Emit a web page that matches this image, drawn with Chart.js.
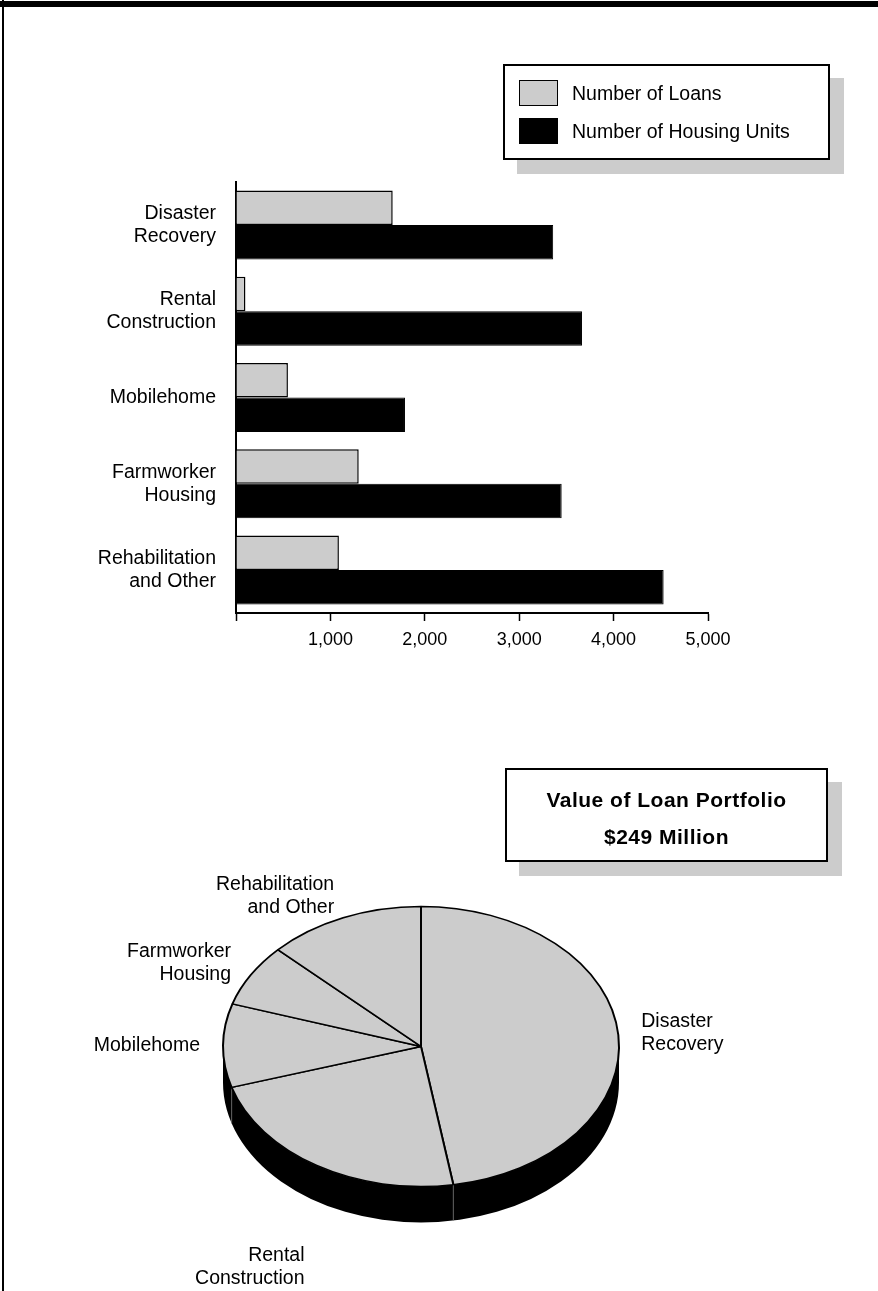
<!DOCTYPE html>
<html>
<head>
<meta charset="utf-8">
<script src="https://cdn.jsdelivr.net/npm/chart.js@4.4.0/dist/chart.umd.min.js"></script>
<style>
  body { margin: 0; width: 878px; height: 1291px; overflow: hidden; background: #fff; position: relative;
         font-family: "Liberation Sans", Arial, sans-serif; color: #000; }
  .frame-top { position: absolute; left: 0; top: 1px; width: 878px; height: 6px; background: #000; }
  .frame-left { position: absolute; left: 2px; top: 0; width: 2px; height: 1291px; background: #000; }
  .box { position: absolute; background: #fff; border: 2px solid #000; box-sizing: border-box;
         box-shadow: 14px 14px 0 #cccccc; z-index: 2; }
  #legend { left: 503px; top: 64px; width: 327px; height: 96px; }
  #legend .item { position: absolute; left: 14px; display: flex; align-items: center; font-size: 19.5px; height: 26px; }
  #legend .swatch { width: 39px; height: 26px; box-sizing: border-box; border: 1.5px solid #000; margin-right: 14px; }
  #portfolio { left: 505px; top: 768px; width: 323px; height: 94px; text-align: center; font-weight: bold;
               font-size: 21px; letter-spacing: 0.5px; padding-top: 11px; line-height: 37px; }
  canvas { position: absolute; left: 0; }
</style>
</head>
<body>
<div class="frame-top"></div>
<div class="frame-left"></div>
<canvas id="barChart" width="878" height="700" style="top:0"></canvas>
<canvas id="pieChart" width="842" height="511" style="top:780px"></canvas>
<div id="legend" class="box"></div>
<div id="portfolio" class="box"></div>
<script>
const categories = [
  ['Disaster', 'Recovery'],
  ['Rental', 'Construction'],
  ['Mobilehome'],
  ['Farmworker', 'Housing'],
  ['Rehabilitation', 'and Other']
];
const seriesNames = ['Number of Loans', 'Number of Housing Units'];
const loans = [1660, 100, 550, 1300, 1090];
const housingUnits = [3360, 3665, 1790, 3450, 4530];
const xTicks = [0, 1000, 2000, 3000, 4000, 5000];
// loan portfolio by program, $ million
const portfolioMillions = [118, 57, 24, 18, 32];

const FONT = '"Liberation Sans", Arial, sans-serif';
Chart.defaults.font.family = FONT;
Chart.defaults.color = '#000';

const barChart = new Chart(document.getElementById('barChart'), {
  type: 'bar',
  data: {
    labels: categories,
    datasets: [
      { label: seriesNames[0], data: loans, backgroundColor: '#cccccc', borderColor: '#000', borderWidth: 1.5 },
      { label: seriesNames[1], data: housingUnits, backgroundColor: '#000', borderColor: '#000', borderWidth: 1 }
    ]
  },
  options: {
    indexAxis: 'y',
    responsive: false,
    animation: false,
    events: [],
    categoryPercentage: 0.8,
    barPercentage: 1.0,
    layout: { padding: { top: 182, right: 170, bottom: 47, left: 0 } },
    plugins: { legend: { display: false }, tooltip: { enabled: false } },
    scales: {
      x: {
        min: 0,
        max: 5000,
        afterBuildTicks: s => { s.ticks = xTicks.map(v => ({ value: v })); },
        afterFit: s => { s.height = 40; },
        ticks: {
          font: { size: 18 },
          padding: 8,
          maxRotation: 0,
          callback: v => v === 0 ? '' : v.toLocaleString('en-US')
        },
        grid: { drawOnChartArea: false, drawTicks: true, tickLength: 8, tickColor: '#000', tickWidth: 1.5 },
        border: { display: true, color: '#000', width: 2 }
      },
      y: {
        afterFit: s => { s.width = 236; },
        ticks: { font: { size: 19.5, lineHeight: 1.18 }, padding: 20 },
        grid: { display: false, drawTicks: false },
        border: { display: true, color: '#000', width: 2 }
      }
    }
  }
});

// legend box built from the bar datasets
const legendBox = document.getElementById('legend');
barChart.data.datasets.forEach((ds, i) => {
  const item = document.createElement('div');
  item.className = 'item';
  item.style.top = (14 + i * 38) + 'px';
  const sw = document.createElement('div');
  sw.className = 'swatch';
  sw.style.background = ds.backgroundColor;
  const txt = document.createElement('span');
  txt.textContent = ds.label;
  item.appendChild(sw);
  item.appendChild(txt);
  legendBox.appendChild(item);
});

const total = portfolioMillions.reduce((a, b) => a + b, 0);
document.getElementById('portfolio').innerHTML =
  '<div>Value of Loan Portfolio</div><div>$' + total + ' Million</div>';

// tilted pie: squash the disc vertically and put a black rim under it
const TILT = 140 / 198;
const DEPTH = 36;
const GAP = 23;
const LINE_H = 23;

const pie3d = {
  id: 'pie3d',
  beforeDatasetsDraw(chart) {
    const ctx = chart.ctx;
    const arcs = chart.getDatasetMeta(0).data;
    const { x, y, outerRadius: r } = arcs[0];
    const d = DEPTH / TILT;
    ctx.save();
    ctx.translate(x, y);
    ctx.scale(1, TILT);
    ctx.translate(-x, -y);
    ctx.beginPath();
    ctx.moveTo(x + r, y);
    ctx.lineTo(x + r, y + d);
    ctx.arc(x, y + d, r, 0, Math.PI);
    ctx.lineTo(x - r, y);
    ctx.arc(x, y, r, Math.PI, 0, true);
    ctx.closePath();
    ctx.fillStyle = '#000';
    ctx.fill();
    // slice edges on the front carry on down the rim
    ctx.strokeStyle = '#777';
    ctx.lineWidth = 1;
    arcs.forEach(a => {
      const t = a.endAngle;
      if (Math.sin(t) > 0.05) {
        ctx.beginPath();
        ctx.moveTo(x + r * Math.cos(t), y + r * Math.sin(t));
        ctx.lineTo(x + r * Math.cos(t), y + r * Math.sin(t) + d);
        ctx.stroke();
      }
    });
  },
  afterDatasetsDraw(chart) {
    chart.ctx.restore();
  },
  afterDraw(chart) {
    const ctx = chart.ctx;
    const arcs = chart.getDatasetMeta(0).data;
    ctx.save();
    ctx.font = '19.5px ' + FONT;
    ctx.fillStyle = '#000';
    ctx.textBaseline = 'middle';
    arcs.forEach((a, i) => {
      const mid = (a.startAngle + a.endAngle) / 2;
      const c = Math.cos(mid), s = Math.sin(mid);
      const lines = chart.data.labels[i];
      const ex = a.x + (a.outerRadius + GAP) * c;
      let ey = a.y + (a.outerRadius * TILT + GAP) * s;
      let top;
      if (s > 0.5) {
        ey += DEPTH + GAP;
        top = ey;
      } else {
        top = ey - lines.length * LINE_H / 2;
      }
      ctx.textAlign = c > 0.1 ? 'left' : (c < -0.1 ? 'right' : 'center');
      lines.forEach((ln, j) => ctx.fillText(ln, ex, top + LINE_H * (j + 0.5)));
    });
    ctx.restore();
  }
};

new Chart(document.getElementById('pieChart'), {
  type: 'pie',
  data: {
    labels: categories,
    datasets: [{
      data: portfolioMillions,
      backgroundColor: '#cccccc',
      borderColor: '#000',
      borderWidth: 2,
      radius: 198
    }]
  },
  options: {
    responsive: false,
    animation: false,
    events: [],
    layout: { padding: { top: 22 } },
    plugins: { legend: { display: false }, tooltip: { enabled: false } }
  },
  plugins: [pie3d]
});
</script>
</body>
</html>
